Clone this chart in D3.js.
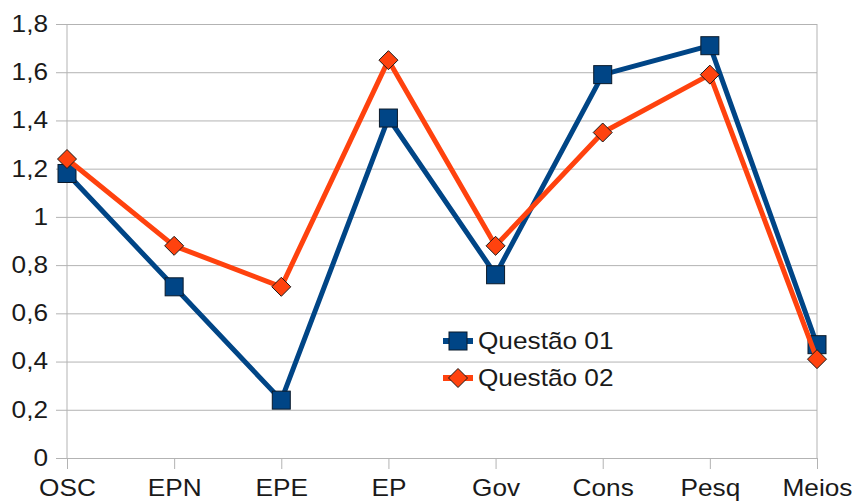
<!DOCTYPE html>
<html>
<head>
<meta charset="utf-8">
<script src="https://cdn.jsdelivr.net/npm/d3@7"></script>
<style>
  body { margin: 0; background: #fff; }
  text { font-family: "Liberation Sans", Arial, sans-serif; fill: #1a1a1a; }
</style>
</head>
<body>
<div id="chart"></div>
<script>
// chart data
const categories = ['OSC', 'EPN', 'EPE', 'EP', 'Gov', 'Cons', 'Pesq', 'Meios'];
const questao01 = [1.18, 0.71, 0.24, 1.41, 0.76, 1.59, 1.71, 0.47];
const questao02 = [1.24, 0.88, 0.71, 1.65, 0.88, 1.35, 1.59, 0.41];
const yTicks = [0, 0.2, 0.4, 0.6, 0.8, 1, 1.2, 1.4, 1.6, 1.8];
const seriesNames = ['Questão 01', 'Questão 02'];

const width = 854, height = 504;
const margin = {top: 24, right: 37, bottom: 46, left: 67};
const fontSize = 23;
const stretch = 1.14; // text in the original is a bit wide

const svg = d3.select('#chart')
  .append('svg')
  .attr('width', width)
  .attr('height', height);

const x = d3.scalePoint()
  .domain(categories)
  .range([margin.left, width - margin.right]);

const y = d3.scaleLinear()
  .domain([0, 1.8])
  .range([height - margin.bottom, margin.top]);

const fmt = d => String(d).replace('.', ',');

// horizontal grid + y labels
const yAxis = svg.append('g')
  .attr('transform', `translate(${margin.left},0)`)
  .call(d3.axisLeft(y).tickValues(yTicks).tickFormat(fmt)
    .tickSize(-(width - margin.left - margin.right)).tickPadding(19));
yAxis.select('.domain').remove();
yAxis.selectAll('line').attr('stroke', '#b3b3b3').attr('x1', -11);
yAxis.selectAll('text')
  .attr('font-size', fontSize)
  .style('font-family', '"Liberation Sans", Arial, sans-serif')
  .attr('fill', '#1a1a1a')
  .attr('x', -19 / stretch)
  .attr('transform', `scale(${stretch},1)`);

// x axis ticks + labels
const xAxis = svg.append('g')
  .attr('transform', `translate(0,${y(0)})`)
  .call(d3.axisBottom(x).tickSize(11).tickPadding(11));
xAxis.select('.domain').attr('stroke', '#b3b3b3');
xAxis.selectAll('line').attr('stroke', '#b3b3b3');
xAxis.selectAll('text')
  .attr('font-size', fontSize)
  .style('font-family', '"Liberation Sans", Arial, sans-serif')
  .attr('fill', '#1a1a1a')
  .attr('transform', `scale(${stretch},1)`);

// vertical frame lines
[margin.left, width - margin.right].forEach(px => {
  svg.append('line')
    .attr('x1', px).attr('x2', px)
    .attr('y1', y(1.8)).attr('y2', y(0))
    .attr('stroke', '#b3b3b3');
});

const line = d3.line()
  .x((d, i) => x(categories[i]))
  .y(d => y(d));

const series = [
  {name: seriesNames[0], values: questao01, color: '#004586', marker: 'square'},
  {name: seriesNames[1], values: questao02, color: '#ff420e', marker: 'diamond'}
];

function drawMarker(g, type, cx, cy, color) {
  if (type === 'square') {
    g.append('rect')
      .attr('x', cx - 9).attr('y', cy - 9)
      .attr('width', 18).attr('height', 18)
      .attr('fill', color).attr('stroke', '#0a1a2a').attr('stroke-width', 1);
  } else {
    g.append('path')
      .attr('d', `M${cx},${cy - 9.5}L${cx + 9.5},${cy}L${cx},${cy + 9.5}L${cx - 9.5},${cy}Z`)
      .attr('fill', color).attr('stroke', '#1a1a1a').attr('stroke-width', 1);
  }
}

series.forEach(s => {
  svg.append('path')
    .attr('d', line(s.values))
    .attr('fill', 'none')
    .attr('stroke', s.color)
    .attr('stroke-width', 5)
    .attr('stroke-linejoin', 'round');
  const g = svg.append('g');
  s.values.forEach((v, i) => drawMarker(g, s.marker, x(categories[i]), y(v), s.color));
});

// legend
const legend = svg.append('g').attr('transform', 'translate(443,341)');
series.forEach((s, i) => {
  const gy = i * 37;
  legend.append('line')
    .attr('x1', 0).attr('x2', 30).attr('y1', gy).attr('y2', gy)
    .attr('stroke', s.color).attr('stroke-width', 6);
  drawMarker(legend, s.marker, 15, gy, s.color);
  legend.append('text')
    .attr('x', 35 / stretch).attr('y', gy + 8)
    .attr('transform', `scale(${stretch},1)`)
    .attr('font-size', fontSize)
    .text(s.name);
});
</script>
</body>
</html>
